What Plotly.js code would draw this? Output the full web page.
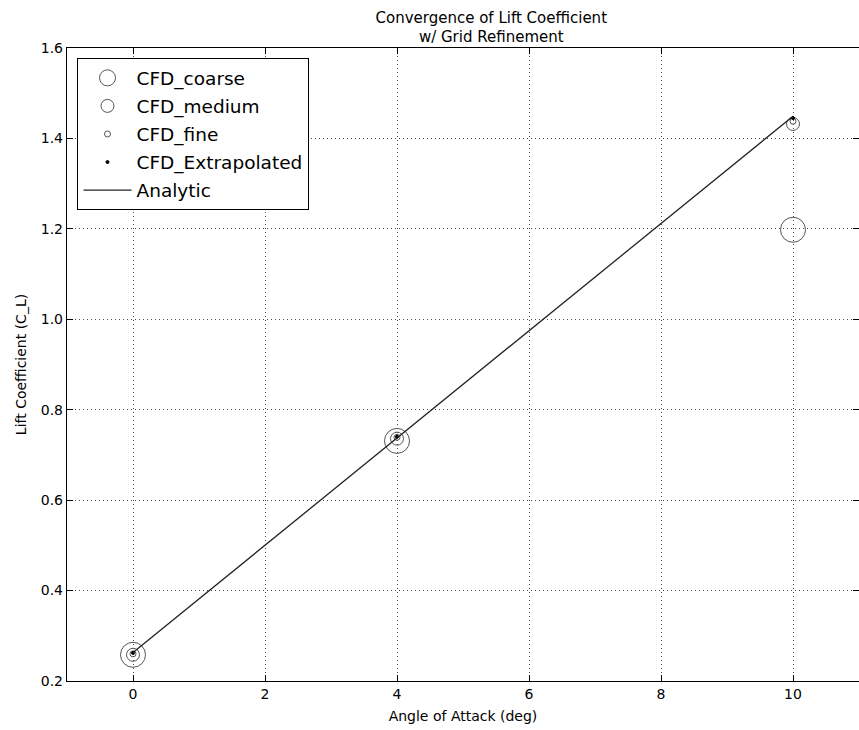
<!DOCTYPE html>
<html>
<head>
<meta charset="utf-8">
<script src="https://cdn.plot.ly/plotly-3.0.1.min.js"></script>
<style>body{margin:0;padding:0;background:#fff}#chart{width:859px;height:730px}</style>
</head>
<body>
<div id="chart"></div>
<script>
const alpha = [0, 4, 10];
const cfdCoarse = [0.258, 0.731, 1.198];
const cfdMedium = [0.258, 0.736, 1.432];
const cfdFine = [0.260, 0.739, 1.438];
const cfdExtrapolated = [0.262, 0.740, 1.445];
const analyticAlpha = [0, 10];
const analyticCL = [0.263, 1.449];
const seriesNames = ["CFD_coarse", "CFD_medium", "CFD_fine", "CFD_Extrapolated", "Analytic"];

const edge = '#555555';
function markerTrace(y, name, size, filled) {
  return {
    x: alpha, y: y, name: name, legendgroup: name, type: 'scatter', mode: 'markers',
    marker: {
      size: size, symbol: filled ? 'circle' : 'circle-open',
      color: filled ? '#000' : edge,
      line: {color: filled ? '#000' : edge, width: 1}
    }
  };
}
const traces = [
  markerTrace(cfdCoarse, seriesNames[0], 25, false),
  markerTrace(cfdMedium, seriesNames[1], 13, false),
  markerTrace(cfdFine, seriesNames[2], 6, false),
  markerTrace(cfdExtrapolated, seriesNames[3], 3, true),
  {x: analyticAlpha, y: analyticCL, name: seriesNames[4], legendgroup: seriesNames[4], type: 'scatter', mode: 'lines',
   line: {color: '#222', width: 1.3}}
];
const axisCommon = {
  showline: true, mirror: 'ticks', linecolor: '#000', linewidth: 1.2,
  ticks: 'inside', ticklen: 6, tickcolor: '#000',
  showgrid: true, gridcolor: '#000', griddash: '1px,3px', gridwidth: 0.7,
  zeroline: false,
  tickfont: {family: 'DejaVu Sans', size: 14, color: '#000'}
};
const layout = {
  width: 859, height: 730,
  margin: {l: 67, r: 0, t: 48, b: 49},
  paper_bgcolor: '#fff', plot_bgcolor: '#fff',
  font: {family: 'DejaVu Sans', color: '#000'},
  title: {text: 'Convergence of Lift Coefficient<br>w/ Grid Refinement',
          font: {family: 'DejaVu Sans', size: 15, color: '#000'},
          x: 0.5357, xanchor: 'center', xref: 'paper', y: 0.9688, yref: 'container', yanchor: 'top'},
  xaxis: Object.assign({}, axisCommon, {
    range: [-1, 11], dtick: 2, tick0: 0,
    title: {text: 'Angle of Attack (deg)', font: {family: 'DejaVu Sans', size: 14, color: '#000'}, standoff: 10}
  }),
  yaxis: Object.assign({}, axisCommon, {
    range: [0.2, 1.6], dtick: 0.2, tick0: 0.2, tickformat: '.1f',
    title: {text: 'Lift Coefficient (C_L)', font: {family: 'DejaVu Sans', size: 14, color: '#000'}, standoff: 10}
  }),
  showlegend: true,
  legend: {
    x: 0.013, y: 0.984, xanchor: 'left', yanchor: 'top',
    bgcolor: '#fff', bordercolor: '#000', borderwidth: 1.2,
    font: {family: 'DejaVu Sans', size: 18.5, color: '#000'},
    tracegroupgap: 1, itemwidth: 48
  }
};
Plotly.newPlot('chart', traces, layout, {displayModeBar: false, staticPlot: true});
</script>
</body>
</html>
